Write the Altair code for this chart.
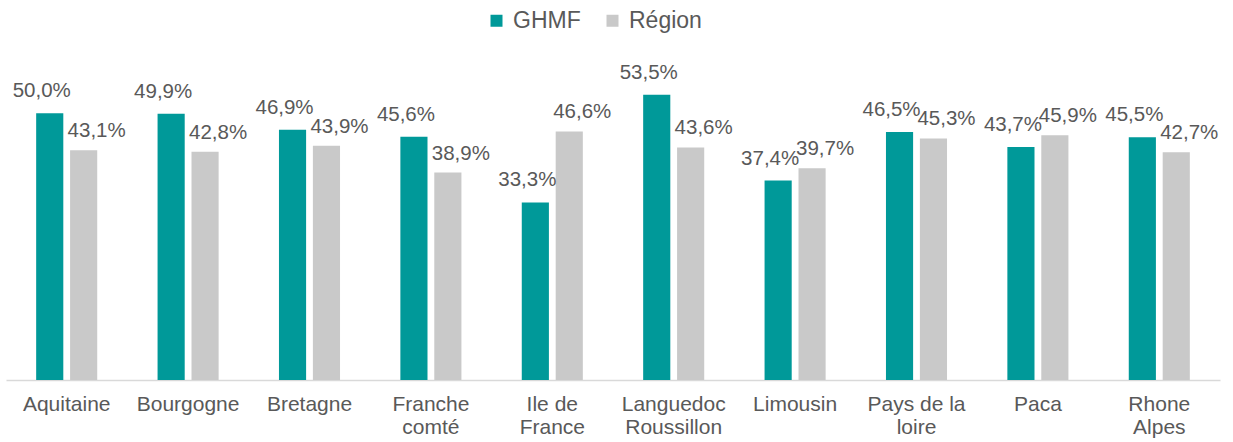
import altair as alt
import pandas as pd

categories = ["Aquitaine", "Bourgogne", "Bretagne", "Franche\ncomté", "Ile de\nFrance",
              "Languedoc\nRoussillon", "Limousin", "Pays de la\nloire", "Paca", "Rhone\nAlpes"]
series = ["GHMF", "Région"]
ghmf = [50.0, 49.9, 46.9, 45.6, 33.3, 53.5, 37.4, 46.5, 43.7, 45.5]
region = [43.1, 42.8, 43.9, 38.9, 46.6, 43.6, 39.7, 45.3, 45.9, 42.7]

rows = []
for c, g, r in zip(categories, ghmf, region):
    rows.append({"cat": c, "serie": series[0], "value": g})
    rows.append({"cat": c, "serie": series[1], "value": r})
df = pd.DataFrame(rows)

FONT = "Liberation Sans"
TXT = "#595959"

x = alt.X("cat:N", sort=categories, title=None,
          scale=alt.Scale(paddingInner=0.497, paddingOuter=0.2485),
          axis=alt.Axis(labelAngle=0, labelFontSize=21, labelColor=TXT, labelFont=FONT,
                        labelExpr="split(datum.label, '\\n')", labelLineHeight=23,
                        labelPadding=13, ticks=False, domainColor="#D9D9D9",
                        domainWidth=1.5, labelLimit=200))
y = alt.Y("value:Q", scale=alt.Scale(domain=[0, 60], nice=False), axis=None)
xo = alt.XOffset("serie:N", sort=series, scale=alt.Scale(paddingInner=0.2, paddingOuter=0))

base = alt.Chart(df).encode(x=x, y=y, xOffset=xo)

bars = base.mark_bar().encode(
    color=alt.Color("serie:N", sort=series, title=None,
                    scale=alt.Scale(domain=series, range=["#009999", "#C9C9C9"]),
                    legend=alt.Legend(orient="none", direction="horizontal",
                                      legendX=479, legendY=-51,
                                      symbolType="square", symbolSize=144,
                                      symbolStrokeWidth=0, labelFontSize=23,
                                      labelColor=TXT, labelFont=FONT,
                                      labelOffset=5, columnPadding=20))
)

lbl = base.transform_calculate(
    lab="replace(format(datum.value, '.1f'), '.', ',') + '%'"
)
txt_g = lbl.transform_filter(alt.datum.serie == "GHMF").mark_text(
    baseline="bottom", dy=-12, dx=-8, fontSize=20.5, font=FONT, color=TXT
).encode(text="lab:N")
txt_r = lbl.transform_filter(alt.datum.serie == "Région").mark_text(
    baseline="bottom", dy=-9, dx=13, fontSize=20.5, font=FONT, color=TXT
).encode(text="lab:N")

chart = alt.layer(bars, txt_g, txt_r).properties(
    width=1214, height=320,
    autosize=alt.AutoSizeParams(type="none"),
    padding={"left": 6, "top": 60, "right": 13, "bottom": 62},
).configure(background="white").configure_view(stroke=None, strokeWidth=0)

chart.save("out.html", embed_options={"renderer": "svg", "actions": False})
